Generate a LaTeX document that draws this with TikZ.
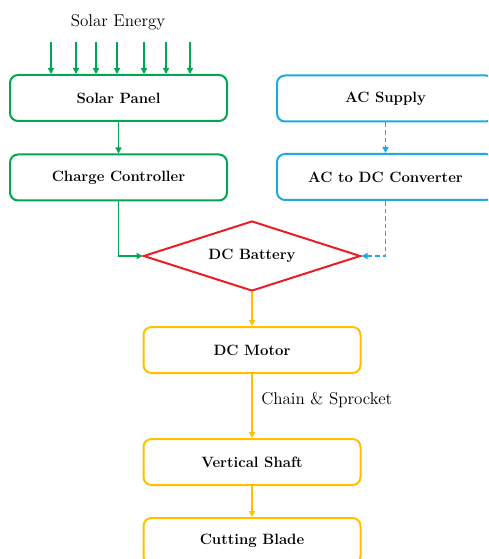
\documentclass[tikz,border=0pt]{standalone}
\usetikzlibrary{shapes.geometric,arrows.meta}
\definecolor{sgreen}{RGB}{0,166,80}
\definecolor{sblue}{RGB}{30,170,225}
\definecolor{sred}{RGB}{235,30,35}
\definecolor{syellow}{RGB}{255,192,0}
\begin{document}
\begin{tikzpicture}[x=0.75pt,y=-0.75pt,
  box/.style={draw, rounded corners=6pt, line width=1.5pt, minimum width=162.75pt,
    minimum height=34.5pt, inner sep=0pt, font=\fontsize{11.2}{13}\selectfont\bfseries},
  conn/.style={line width=1pt, -{Triangle[length=4.5pt,width=4.5pt]}},
  dashconn/.style={conn, line width=1.2pt, dash pattern=on 3.5pt off 2.2pt},
  lbl/.style={font=\fontsize{12.8}{14}\selectfont, inner sep=0pt}]
\useasboundingbox (0,0) rectangle (488,559);
\clip (0,0) rectangle (488,559);
% nodes
\node[lbl] (se) at (118,22) {Solar Energy};
\node[box, draw=sgreen] (sp) at (118.5,98) {Solar Panel};
\node[box, draw=sgreen] (cc) at (118.5,177.5) {Charge Controller};
\node[box, draw=sblue] (ac) at (385.5,98.5) {AC Supply};
\node[box, draw=sblue] (conv) at (385.5,177) {AC to DC Converter};
\node[draw=sred, line width=1.5pt, diamond, aspect=3.1, inner sep=0pt,
  minimum width=162.75pt, minimum height=52.5pt,
  font=\fontsize{11.2}{13}\selectfont\bfseries] (bat) at (252,256) {DC Battery};
\node[box, draw=syellow] (mot) at (252,350) {DC Motor};
\node[box, draw=syellow] (sh) at (252,462) {Vertical Shaft};
\node[box, draw=syellow] (bl) at (252,541) {Cutting Blade};
\node[lbl, anchor=west] (cs) at (261,400) {Chain \& Sprocket};
% solar rays
\foreach \x in {51,76,96,117,144,166,190}{
  \coordinate (r\x) at (\x,42);
  \draw[conn, color=sgreen] (r\x) -- (r\x |- sp.north);
}
% connectors
\draw[conn, color=sgreen] (sp.south) -- (cc.north);
\draw[conn, color=sgreen] (cc.south) |- (bat.west);
\draw[dashconn, color=sblue] (ac.south) -- (conv.north);
\draw[dashconn, color=sblue] (conv.south) |- (bat.east);
\draw[conn, color=syellow] (bat.south) -- (mot.north);
\draw[conn, color=syellow] (mot.south) -- (sh.north);
\draw[conn, color=syellow] (sh.south) -- (bl.north);
\end{tikzpicture}
\end{document}
